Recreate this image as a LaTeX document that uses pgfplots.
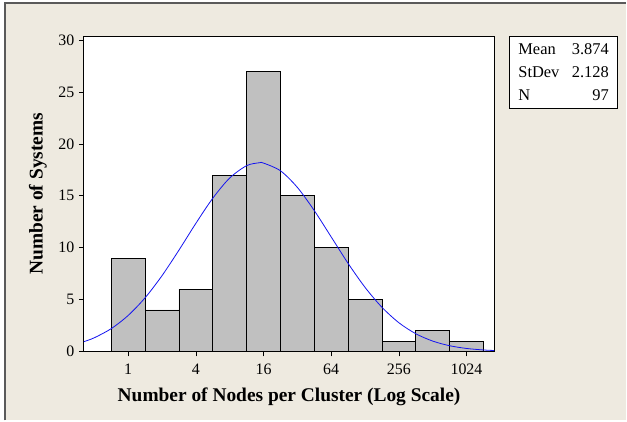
\documentclass[border=0pt]{standalone}
\usepackage{pgfplots}
\pgfplotsset{compat=1.18}
\usepackage{fontspec}
\setmainfont{Liberation Serif}
\definecolor{bgbeige}{RGB}{238,234,224}
\definecolor{framegray}{RGB}{90,90,90}
\definecolor{bargray}{RGB}{192,192,192}
\definecolor{curveblue}{RGB}{20,20,240}
\begin{document}
\begin{tikzpicture}[x=1bp,y=1bp]
\fill[white] (0,0) rectangle (627,421);
\fill[bgbeige] (5,0) rectangle (627,418);
\draw[framegray, line width=2bp] (5,0) -- (5,418) -- (627,418);
\begin{axis}[
  at={(84bp,69bp)}, anchor=south west,
  width=411bp, height=316bp, scale only axis,
  xmin=-1.31, xmax=10.82, ymin=0, ymax=30.4,
  axis background/.style={fill=white},
  axis line style={black, line width=0.8bp},
  tick pos=left, tick align=outside,
  major tick length=5bp,
  tick style={black, line width=0.6bp},
  xtick={0,2,4,6,8,10},
  xticklabels={1,4,16,64,256,1024},
  ytick={0,5,10,15,20,25,30},
  /pgf/number format/assume math mode=true,
  ticklabel style={font=\fontsize{16}{18}\selectfont},
  xticklabel style={yshift=-4bp},
  yticklabel style={xshift=-1bp},
  xlabel={Number of Nodes per Cluster (Log Scale)},
  ylabel={Number of Systems},
  label style={font=\fontsize{19.5}{22}\selectfont\bfseries},
  xlabel style={at={(axis description cs:0.5,-0.143)}, anchor=center},
  ylabel style={at={(axis description cs:-0.112,0.5)}, anchor=center},
  clip=true,
]
\addplot[ybar interval, fill=bargray, draw=black, line width=0.8bp] coordinates {
  (-0.5,9) (0.5,4) (1.5,6) (2.5,17) (3.5,27) (4.5,15) (5.5,10) (6.5,5) (7.5,1) (8.5,2) (9.5,1) (10.5,1)
};
\addplot[curveblue, line width=0.8bp, smooth, mark=none] coordinates {
  (-1.31,0.94) (-1.0,1.32) (-0.5,2.20) (0,3.47) (0.5,5.17) (1,7.30) (1.5,9.76) (2,12.34) (2.5,14.76) (3,16.71) (3.5,17.90) (3.874,18.18) (4,18.15) (4.5,17.41) (5,15.81) (5.5,13.58) (6,11.04) (6.5,8.49) (7,6.18) (7.5,4.26) (8,2.77) (8.5,1.71) (9,1.00) (9.5,0.552) (10,0.289) (10.5,0.143) (10.82,0.09)
};
\end{axis}
\draw[black, line width=0.8bp, fill=white] (510,312) rectangle (618,385);
\begin{scope}[every node/.style={font=\fontsize{16.5}{18}\selectfont, inner sep=0pt}]
\node[anchor=base west] at (519,366) {Mean};
\node[anchor=base east] at (610,366) {3.874};
\node[anchor=base west] at (519,343) {StDev};
\node[anchor=base east] at (610,343) {2.128};
\node[anchor=base west] at (519,320) {N};
\node[anchor=base east] at (610,320) {97};
\end{scope}
\end{tikzpicture}
\end{document}
